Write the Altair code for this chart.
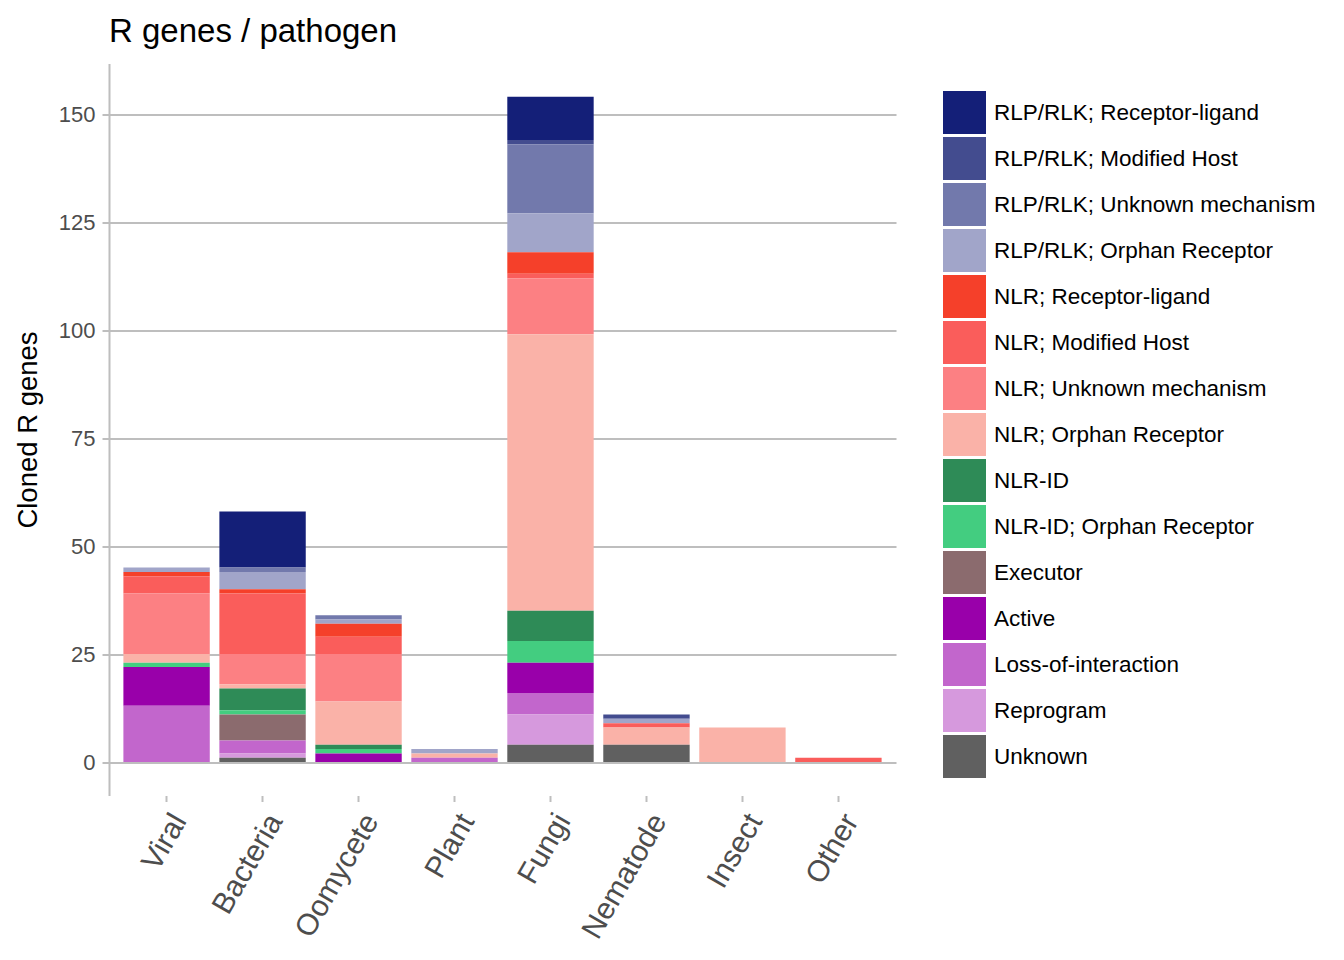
import altair as alt
import pandas as pd

pathogens = ["Viral", "Bacteria", "Oomycete", "Plant", "Fungi", "Nematode", "Insect", "Other"]

types = [
    "RLP/RLK; Receptor-ligand",
    "RLP/RLK; Modified Host",
    "RLP/RLK; Unknown mechanism",
    "RLP/RLK; Orphan Receptor",
    "NLR; Receptor-ligand",
    "NLR; Modified Host",
    "NLR; Unknown mechanism",
    "NLR; Orphan Receptor",
    "NLR-ID",
    "NLR-ID; Orphan Receptor",
    "Executor",
    "Active",
    "Loss-of-interaction",
    "Reprogram",
    "Unknown",
]

colors = [
    "#141F78", "#434C8F", "#7279AC", "#A1A5C9",
    "#F5402A", "#FA5D5B", "#FC8083", "#FAB2A8",
    "#2E8B57", "#43CD80", "#8B6B6E", "#9900AA",
    "#C266CC", "#D699DD", "#606060",
]

# values per pathogen, in the order of `pathogens`
rlp_receptor_ligand = [0, 13, 0, 0, 10, 0, 0, 0]
rlp_modified_host = [0, 0, 0, 0, 1, 1, 0, 0]
rlp_unknown_mech = [0, 1, 1, 0, 16, 0, 0, 0]
rlp_orphan = [1, 4, 1, 1, 9, 1, 0, 0]
nlr_receptor_ligand = [1, 1, 3, 0, 5, 0, 0, 0]
nlr_modified_host = [4, 14, 4, 0, 1, 1, 0, 1]
nlr_unknown_mech = [14, 7, 11, 0, 13, 0, 0, 0]
nlr_orphan = [2, 1, 10, 1, 64, 4, 8, 0]
nlr_id = [0, 5, 1, 0, 7, 0, 0, 0]
nlr_id_orphan = [1, 1, 1, 0, 5, 0, 0, 0]
executor = [0, 6, 0, 0, 0, 0, 0, 0]
active = [9, 0, 2, 0, 7, 0, 0, 0]
loss_of_interaction = [13, 3, 0, 1, 5, 0, 0, 0]
reprogram = [0, 1, 0, 0, 7, 0, 0, 0]
unknown = [0, 1, 0, 0, 4, 4, 0, 0]

series = [
    rlp_receptor_ligand, rlp_modified_host, rlp_unknown_mech, rlp_orphan,
    nlr_receptor_ligand, nlr_modified_host, nlr_unknown_mech, nlr_orphan,
    nlr_id, nlr_id_orphan, executor, active, loss_of_interaction, reprogram, unknown,
]

y_ticks = [0, 25, 50, 75, 100, 125, 150]

rows = []
for ti, (t, vals) in enumerate(zip(types, series)):
    for p, v in zip(pathogens, vals):
        if v > 0:
            rows.append({"pathogen": p, "type": t, "count": v, "order": len(types) - ti})
df = pd.DataFrame(rows)

grey = "#BEBEBE"
font = "Liberation Sans"

chart = alt.Chart(df).mark_bar().encode(
    x=alt.X(
        "pathogen:N",
        sort=pathogens,
        title=None,
        scale=alt.Scale(paddingInner=0.1, paddingOuter=0.15),
        axis=alt.Axis(
            labelAngle=300,
            labelAlign="right",
            labelBaseline="top",
            labelFontSize=30,
            labelColor="#4D4D4D",
            labelPadding=7,
            domain=False,
            ticks=True,
            tickSize=6,
            tickWidth=2,
            tickColor=grey,
            grid=False,
        ),
    ),
    y=alt.Y(
        "count:Q",
        title="Cloned R genes",
        scale=alt.Scale(domain=[-7.75, 161.69], nice=False, zero=False),
        axis=alt.Axis(
            values=y_ticks,
            labelFontSize=22,
            labelColor="#4D4D4D",
            labelPadding=7,
            tickSize=7,
            tickWidth=2,
            tickColor=grey,
            domain=True,
            domainColor=grey,
            domainWidth=2,
            grid=True,
            gridColor=grey,
            gridWidth=2,
            titleFontSize=27.5,
            titleFontWeight="normal",
            titleColor="black",
            titleAngle=270,
            titleBaseline="alphabetic",
            titleAlign="center",
            titleX=-73,
            titleY=366,
        ),
    ),
    color=alt.Color(
        "type:N",
        title=None,
        scale=alt.Scale(domain=types, range=colors),
        legend=alt.Legend(
            orient="none",
            legendX=834,
            legendY=27.5,
            padding=0,
            symbolType="square",
            symbolSize=1849,
            symbolStrokeWidth=0,
            symbolOpacity=1,
            rowPadding=3,
            labelFontSize=22.5,
            labelColor="black",
            labelOffset=8,
            labelLimit=500,
        ),
    ),
    order=alt.Order("order:Q", sort="ascending"),
).properties(
    width=787,
    height=732,
    title=alt.TitleParams(
        "R genes / pathogen",
        anchor="start",
        frame="group",
        fontSize=33,
        fontWeight="normal",
        color="black",
        baseline="alphabetic",
        offset=21,
        dy=32,
    ),
    autosize=alt.AutoSizeParams(type="none"),
    padding={"left": 101, "top": 55.5, "right": 440, "bottom": 160},
).configure(
    font=font,
).configure_view(
    stroke=None,
)

chart.save("out.html", embed_options={"renderer": "svg", "actions": False})
